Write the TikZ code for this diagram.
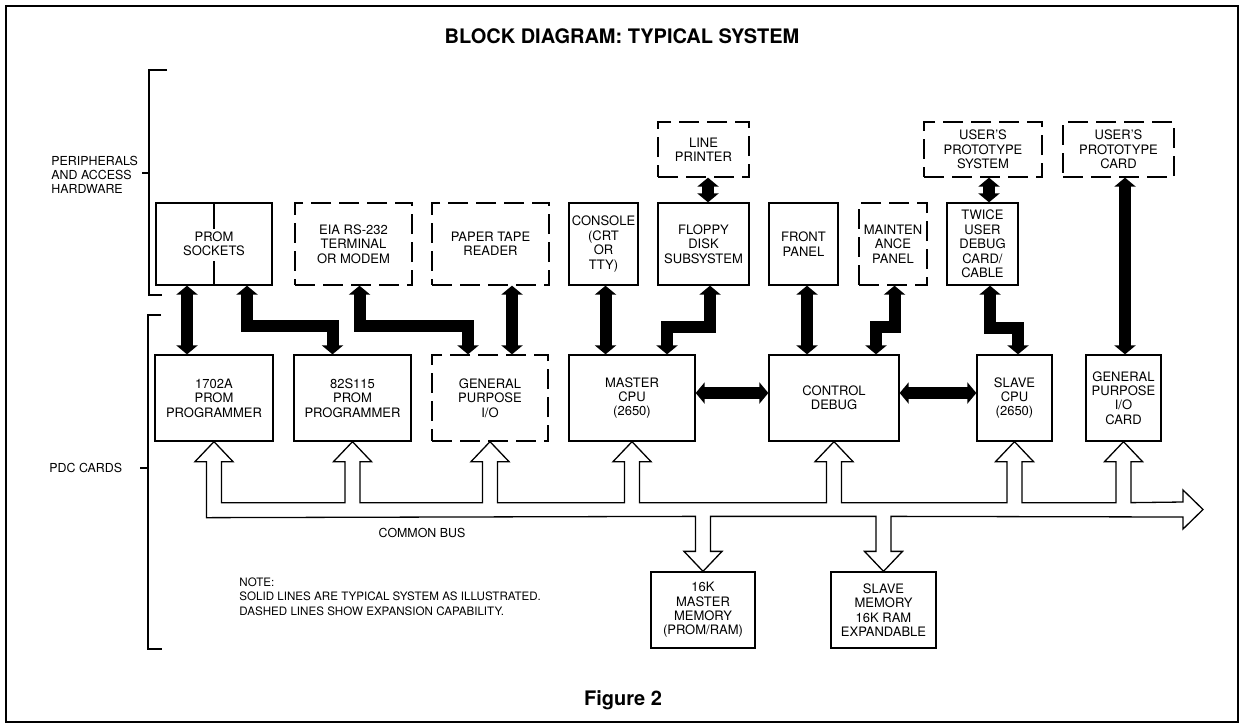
\documentclass[tikz,border=0pt]{standalone}
\usepackage{fontspec}
\setmainfont{TeX Gyre Heros}
\usetikzlibrary{arrows.meta,calc}

% one tap of the common bus: up into a card, down into a memory
\newcommand\tapup[1]{-- ($(#1.south)+(-7.5,61)$) -- ++(0,-41) -- ++(-11.5,0) -- (#1.south) -- ++(19,20) -- ++(-11.5,0) -- ++(0,41)}
\newcommand\tapdn[1]{-- ($(#1.north)+(7.5,-55)$) -- ++(0,35) -- ++(11.5,0) -- (#1.north) -- ++(-19,-20) -- ++(11.5,0) -- ++(0,-35)}

\begin{document}
\begin{tikzpicture}[x=0.5pt,y=-0.5pt,>={Triangle[width=10.5pt,length=4.5pt]},
  box/.style={draw,line width=0.65pt,inner sep=0pt,align=center,font=\fontsize{6.5}{7.2}\selectfont},
  dbox/.style={box,dash pattern=on 10pt off 4pt},
  fat/.style={line width=6pt,<->},
  sidelbl/.style={inner sep=0pt,align=left,font=\fontsize{6.2}{7}\selectfont},
  heading/.style={font=\bfseries\fontsize{10}{12}\selectfont}]
  \useasboundingbox (0,0) rectangle (1245,724);
  \draw[line width=0.8pt] (6,6) rectangle (1238,722);
  \node[heading] (title) at (622,36) {BLOCK DIAGRAM: TYPICAL SYSTEM};
  \node[heading] (fig) at (623,700) {Figure 2};

  % brackets on the left
  \draw[line width=0.65pt] (167,70) -| (149,295) -- (162,295);
  \draw[line width=0.65pt] (142,173) -- (149,173);
  \node[sidelbl,anchor=west] (perlbl) at (51,175) {PERIPHERALS\\AND ACCESS\\HARDWARE};
  \draw[line width=0.65pt] (161,315) -| (148,649) -- (162,649);
  \draw[line width=0.65pt] (140,468) -- (148,468);
  \node[sidelbl,anchor=west] (pdclbl) at (49,468) {PDC CARDS};

  % peripherals
  \node[dbox,minimum width=45.5pt,minimum height=27.5pt] (lpr) at (703.5,149.5) {LINE\\PRINTER};
  \node[dbox,minimum width=59pt,minimum height=27.5pt] (usys) at (983,149.5) {USER'S\\PROTOTYPE\\SYSTEM};
  \node[dbox,minimum width=55.5pt,minimum height=27.5pt] (ucard) at (1118.5,149.5) {USER'S\\PROTOTYPE\\CARD};
  \node[box,minimum width=58pt,minimum height=41pt] (proms) at (214,244) {PROM\\SOCKETS};
  \draw[line width=0.65pt] (proms.north) -- ++(0,27) (proms.south) -- ++(0,-25);
  \node[dbox,minimum width=58.5pt,minimum height=41pt] (eia) at (353.5,244) {EIA RS-232\\TERMINAL\\OR MODEM};
  \node[dbox,minimum width=58.5pt,minimum height=41pt] (ptr) at (490.5,244) {PAPER TAPE\\READER};
  \node[box,minimum width=34.5pt,minimum height=41pt] (cons) at (603.5,244) {CONSOLE\\(CRT\\OR\\TTY)};
  \node[box,minimum width=45.5pt,minimum height=41pt] (floppy) at (703.5,244) {FLOPPY\\DISK\\SUBSYSTEM};
  \node[box,minimum width=34.5pt,minimum height=41pt] (fpanel) at (803.5,244) {FRONT\\PANEL};
  \node[dbox,minimum width=34pt,minimum height=41pt] (mpanel) at (893,244) {MAINTEN\\ANCE\\PANEL};
  \node[box,minimum width=35.5pt,minimum height=41pt] (twice) at (982.5,244) {TWICE\\USER\\DEBUG\\CARD/\\CABLE};

  % PDC cards
  \node[box,minimum width=59pt,minimum height=43pt] (pgmA) at (214,398) {1702A\\PROM\\PROGRAMMER};
  \node[box,minimum width=58.5pt,minimum height=43pt] (pgmB) at (352.5,398) {82S115\\PROM\\PROGRAMMER};
  \node[dbox,minimum width=58pt,minimum height=43pt] (gpio) at (490,398) {GENERAL\\PURPOSE\\I/O};
  \node[box,minimum width=63pt,minimum height=43pt] (mcpu) at (632,398) {MASTER\\CPU\\(2650)};
  \node[box,minimum width=65pt,minimum height=43pt] (ctrl) at (834,398) {CONTROL\\DEBUG};
  \node[box,minimum width=37.5pt,minimum height=43pt] (scpu) at (1014.5,398) {SLAVE\\CPU\\(2650)};
  \node[box,minimum width=37.5pt,minimum height=43pt] (gpcard) at (1123.5,398) {GENERAL\\PURPOSE\\I/O\\CARD};
  \node[box,minimum width=52pt,minimum height=38pt] (mmem) at (703,610) {16K\\MASTER\\MEMORY\\(PROM/RAM)};
  \node[box,minimum width=52.5pt,minimum height=38pt] (smem) at (883.5,610) {SLAVE\\MEMORY\\16K RAM\\EXPANDABLE};

  % heavy links
  \draw[fat] ($(proms.south)+(-27,0)$) -- ($(pgmA.north)+(-27,0)$);
  \draw[fat] ($(proms.south)+(33,0)$) -- ++(0,40) -| ($(pgmB.north)+(-20,0)$);
  \draw[fat] ($(eia.south)+(6,0)$) -- ++(0,40) -| ($(gpio.north)+(-22,0)$);
  \draw[fat] ($(ptr.south)+(21.5,0)$) -- ($(gpio.north)+(22,0)$);
  \draw[fat] ($(cons.south)+(2,0)$) -- ($(mcpu.north)+(-26.5,0)$);
  \draw[fat] ($(floppy.south)+(6.5,0)$) -- ++(0,41) -| ($(mcpu.north)+(35,0)$);
  \draw[fat] ($(lpr.south)+(4.5,0)$) -- ($(floppy.north)+(4.5,0)$);
  \draw[fat] ($(fpanel.south)+(3.5,0)$) -- ($(ctrl.north)+(-27,0)$);
  \draw[fat] ($(mpanel.south)+(1.5,0)$) -- ++(0,41) -| ($(ctrl.north)+(42,0)$);
  \draw[fat] ($(usys.south)+(6,0)$) -- ($(twice.north)+(6.5,0)$);
  \draw[fat] ($(twice.south)+(7.5,0)$) -- ++(0,42) -| ($(scpu.north)+(3.5,0)$);
  \draw[fat] ($(ucard.south)+(6.5,0)$) -- ($(gpcard.north)+(1.5,0)$);
  \draw[fat] ($(mcpu.east)+(0,-5)$) -- ($(ctrl.west)+(0,-5)$);
  \draw[fat] ($(ctrl.east)+(0,-5)$) -- ($(scpu.west)+(0,-5)$);

  % common bus, drawn as one hollow outline
  \coordinate (busend) at (1203,509.5);
  \draw[line width=0.65pt] ($(pgmA.south)+(-7.5,76)$) -- ++(0,-56) -- ++(-11.5,0) -- (pgmA.south) -- ++(19,20) -- ++(-11.5,0) -- ++(0,41)
    \tapup{pgmB} \tapup{gpio} \tapup{mcpu} \tapup{ctrl} \tapup{scpu} \tapup{gpcard}
    -- ($(busend)+(-20,-7.5)$) -- ++(0,-12) -- (busend) -- ++(-20,19.5) -- ++(0,-12)
    \tapdn{smem} \tapdn{mmem} -- cycle;
  \node[sidelbl] (buslbl) at (422,533) {COMMON BUS};

  \node[sidelbl,anchor=north west,font=\fontsize{5.8}{7.25}\selectfont] (note) at (239,577)
    {NOTE:\\SOLID LINES ARE TYPICAL SYSTEM AS ILLUSTRATED.\\DASHED LINES SHOW EXPANSION CAPABILITY.};
\end{tikzpicture}
\end{document}
